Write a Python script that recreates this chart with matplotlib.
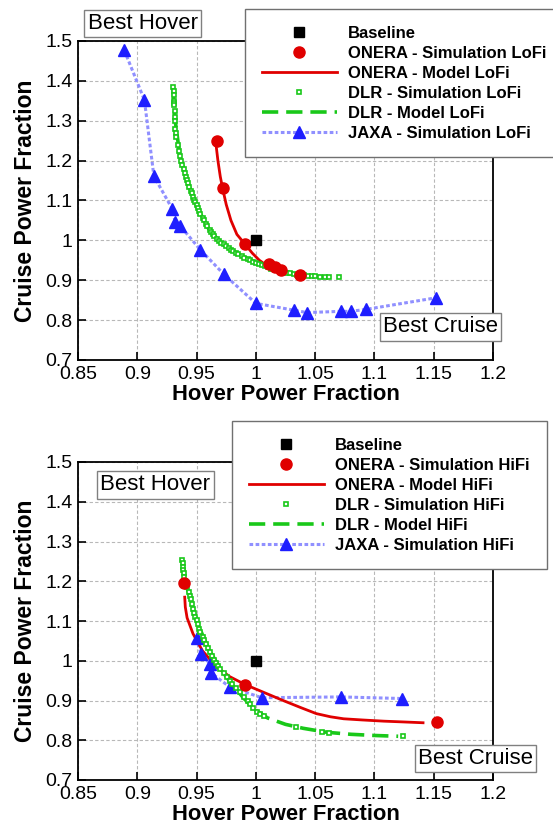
import matplotlib
matplotlib.use("Agg")
import matplotlib.pyplot as plt
from matplotlib.lines import Line2D

plt.rcParams['font.family'] = ['Liberation Sans', 'DejaVu Sans']

# ---------------- LoFi data ----------------
baseline = (1.0, 1.0)

onera_sim_lofi_x = [0.967, 0.972, 0.991, 1.011, 1.016, 1.021, 1.037]
onera_sim_lofi_y = [1.250, 1.131, 0.991, 0.940, 0.932, 0.925, 0.913]

onera_mod_lofi_x = [0.966, 0.968, 0.970, 0.972, 0.975, 0.979, 0.984, 0.991, 0.997, 1.003, 1.010, 1.018, 1.027, 1.037, 1.040]
onera_mod_lofi_y = [1.250, 1.200, 1.160, 1.130, 1.090, 1.050, 1.015, 0.990, 0.968, 0.950, 0.935, 0.924, 0.917, 0.912, 0.911]

dlr_sim_lofi_x = [0.9305, 0.9306, 0.9308, 0.931, 0.9311, 0.9312, 0.9315, 0.9318, 0.932, 0.9322,
                  0.9326, 0.933, 0.934, 0.935, 0.936, 0.937, 0.938, 0.939, 0.940, 0.941,
                  0.942, 0.943, 0.944, 0.945, 0.946, 0.947, 0.948, 0.949, 0.950, 0.951,
                  0.952, 0.953, 0.955, 0.956, 0.958, 0.959, 0.961, 0.962, 0.964, 0.965,
                  0.967, 0.969, 0.971, 0.973, 0.975, 0.977, 0.979, 0.981, 0.983, 0.985,
                  0.988, 0.990, 0.993, 0.995, 0.998, 1.000, 1.003, 1.005, 1.008, 1.010,
                  1.013, 1.015, 1.018, 1.020, 1.023, 1.026, 1.029, 1.032, 1.035, 1.038,
                  1.041, 1.044, 1.047, 1.050, 1.054, 1.058, 1.062, 1.070]
dlr_sim_lofi_y = [1.385, 1.375, 1.365, 1.350, 1.345, 1.340, 1.325, 1.310, 1.300, 1.280,
                  1.270, 1.260, 1.240, 1.225, 1.212, 1.200, 1.190, 1.180, 1.170, 1.160,
                  1.152, 1.145, 1.135, 1.125, 1.118, 1.110, 1.102, 1.095, 1.088, 1.080,
                  1.073, 1.065, 1.056, 1.050, 1.042, 1.035, 1.027, 1.020, 1.015, 1.010,
                  1.004, 0.998, 0.994, 0.990, 0.986, 0.982, 0.977, 0.973, 0.969, 0.965,
                  0.960, 0.957, 0.953, 0.950, 0.947, 0.944, 0.941, 0.938, 0.935, 0.932,
                  0.929, 0.927, 0.925, 0.923, 0.921, 0.919, 0.917, 0.916, 0.914, 0.913,
                  0.912, 0.911, 0.910, 0.910, 0.909, 0.908, 0.908, 0.907]

dlr_mod_lofi_x = [0.930, 0.932, 0.936, 0.942, 0.950, 0.960, 0.970, 0.980, 0.990, 1.000,
                  1.010, 1.020, 1.030, 1.040, 1.050, 1.060, 1.066]
dlr_mod_lofi_y = [1.385, 1.300, 1.210, 1.150, 1.085, 1.030, 0.995, 0.975, 0.958, 0.945,
                  0.932, 0.923, 0.917, 0.913, 0.910, 0.908, 0.907]

jaxa_sim_lofi_x = [0.889, 0.906, 0.914, 0.9295, 0.932, 0.936, 0.953, 0.973, 1.000,
                   1.032, 1.043, 1.072, 1.080, 1.093, 1.152]
jaxa_sim_lofi_y = [1.477, 1.352, 1.161, 1.079, 1.046, 1.037, 0.977, 0.915, 0.842,
                   0.825, 0.819, 0.822, 0.822, 0.827, 0.856]

# ---------------- HiFi data ----------------
onera_sim_hifi_x = [0.939, 0.991, 1.153]
onera_sim_hifi_y = [1.196, 0.940, 0.845]

onera_mod_hifi_x = [0.940, 0.9405, 0.942, 0.947, 0.955, 0.967, 0.978, 0.991, 1.007, 1.023,
                    1.038, 1.051, 1.063, 1.074, 1.090, 1.108, 1.125, 1.141]
onera_mod_hifi_y = [1.160, 1.135, 1.108, 1.068, 1.025, 0.984, 0.960, 0.940, 0.920, 0.900,
                    0.882, 0.867, 0.859, 0.854, 0.851, 0.848, 0.846, 0.844]

dlr_sim_hifi_x = [0.938, 0.9382, 0.9385, 0.9388, 0.939, 0.9395, 0.940, 0.941, 0.942, 0.9436,
                  0.9445, 0.945, 0.946, 0.947, 0.948, 0.949, 0.950, 0.951, 0.952, 0.953,
                  0.955, 0.956, 0.958, 0.960, 0.961, 0.963, 0.965, 0.966, 0.968, 0.970,
                  0.973, 0.9754, 0.978, 0.980, 0.983, 0.9866, 0.990, 0.993, 0.995, 0.998,
                  1.0006, 1.0035, 1.0071, 1.034, 1.0555, 1.062, 1.1243]
dlr_sim_hifi_y = [1.253, 1.245, 1.235, 1.228, 1.220, 1.210, 1.200, 1.192, 1.185, 1.173,
                  1.163, 1.155, 1.143, 1.130, 1.120, 1.111, 1.102, 1.093, 1.080, 1.072,
                  1.060, 1.052, 1.043, 1.031, 1.022, 1.012, 1.003, 0.995, 0.987, 0.978,
                  0.968, 0.959, 0.950, 0.942, 0.931, 0.921, 0.910, 0.900, 0.892, 0.882,
                  0.871, 0.866, 0.861, 0.833, 0.821, 0.819, 0.810]

dlr_mod_hifi_x = [0.938, 0.940, 0.944, 0.950, 0.960, 0.970, 0.980, 0.990, 1.000, 1.010,
                  1.025, 1.040, 1.060, 1.080, 1.100, 1.120]
dlr_mod_hifi_y = [1.250, 1.200, 1.165, 1.100, 1.030, 0.980, 0.940, 0.905, 0.875, 0.856,
                  0.840, 0.830, 0.820, 0.815, 0.812, 0.810]

jaxa_sim_hifi_x = [0.950, 0.9535, 0.9613, 0.9619, 0.978, 1.005, 1.072, 1.123]
jaxa_sim_hifi_y = [1.058, 1.018, 0.993, 0.970, 0.934, 0.907, 0.909, 0.905]

x_ticks = [0.85, 0.9, 0.95, 1.0, 1.05, 1.1, 1.15, 1.2]
x_tick_labels = ['0.85', '0.9', '0.95', '1', '1.05', '1.1', '1.15', '1.2']
y_ticks = [0.7, 0.8, 0.9, 1.0, 1.1, 1.2, 1.3, 1.4, 1.5]
y_tick_labels = ['0.7', '0.8', '0.9', '1', '1.1', '1.2', '1.3', '1.4', '1.5']

RED = '#e00000'
GREEN = '#19c819'
BLUE = '#1e1eff'
BLUE_LINE = '#9090ff'

W, H = 553, 825
fig = plt.figure(figsize=(W / 100, H / 100), dpi=100)


def px_box(left, top, right, bottom):
    return [left / W, 1 - bottom / H, (right - left) / W, (bottom - top) / H]


def style_axes(ax):
    ax.set_xlim(0.85, 1.2)
    ax.set_ylim(0.7, 1.5)
    ax.set_xticks(x_ticks)
    ax.set_xticklabels(x_tick_labels)
    ax.set_yticks(y_ticks)
    ax.set_yticklabels(y_tick_labels)
    ax.grid(True, color='#b8b8b8', lw=0.8, ls=(0, (3, 2)))
    ax.set_axisbelow(True)
    ax.tick_params(direction='in', length=6, width=1.2, labelsize=14,
                   top=False, right=False, pad=4)
    for s in ax.spines.values():
        s.set_linewidth(1.3)
    ax.set_xlabel('Hover Power Fraction', fontsize=15.8, fontweight='bold', labelpad=1)
    ax.set_ylabel('Cruise Power Fraction', fontsize=16.5, fontweight='bold', labelpad=6)


def draw(ax, osx, osy, omx, omy, dsx, dsy, dmx, dmy, jx, jy):
    ax.plot(jx, jy, color=BLUE_LINE, lw=2.2, ls=(0, (1.2, 0.8)), zorder=2)
    ax.plot(omx, omy, color=RED, lw=2.0, zorder=3)
    ax.plot(jx, jy, ls='none', marker='^', ms=9, color=BLUE, mec=BLUE, zorder=4)
    ax.plot(dmx, dmy, color=GREEN, lw=2.6, dashes=(4.5, 2.2), zorder=5)
    ax.plot(dsx, dsy, ls='none', marker='s', ms=3.3, mfc='white', mec=GREEN, mew=1.2, zorder=6)
    ax.plot(osx, osy, ls='none', marker='o', ms=8, color=RED, zorder=7)
    ax.plot([baseline[0]], [baseline[1]], ls='none', marker='s', ms=7, color='black', zorder=8)


def add_legend(fit, left_px, top_px):
    handles = [
        Line2D([], [], ls='none', marker='s', ms=7, color='black'),
        Line2D([], [], ls='none', marker='o', ms=8, color=RED),
        Line2D([], [], color=RED, lw=2.0),
        Line2D([], [], ls='none', marker='s', ms=3.3, mfc='white', mec=GREEN, mew=1.2),
        Line2D([], [], color=GREEN, lw=2.6, dashes=(4.5, 2.2)),
        Line2D([], [], color=BLUE_LINE, lw=2.2, ls=(0, (1.2, 0.8)),
               marker='^', ms=9, mfc=BLUE, mec=BLUE),
    ]
    labels = ['Baseline',
              f'ONERA - Simulation {fit}',
              f'ONERA - Model {fit}',
              f'DLR - Simulation {fit}',
              f'DLR - Model {fit}',
              f'JAXA - Simulation {fit}']
    leg = fig.legend(handles, labels, loc='upper left',
                     bbox_to_anchor=(left_px / W, 1 - top_px / H),
                     bbox_transform=fig.transFigure,
                     prop={'size': 12, 'weight': 'bold'},
                     handlelength=4.5, handletextpad=0.7, labelspacing=0.3,
                     borderpad=1.0, borderaxespad=0, numpoints=1,
                     fancybox=False, framealpha=1, edgecolor='#707070')
    leg.get_frame().set_linewidth(1.0)
    return leg


def label_box(text, cx, cy):
    fig.text(cx / W, 1 - cy / H, text, ha='center', va='center', fontsize=16,
             bbox=dict(boxstyle='square,pad=0.15', fc='white', ec='#808080', lw=1.0))


ax1 = fig.add_axes(px_box(78, 41, 493, 360))
style_axes(ax1)
draw(ax1, onera_sim_lofi_x, onera_sim_lofi_y, onera_mod_lofi_x, onera_mod_lofi_y,
     dlr_sim_lofi_x, dlr_sim_lofi_y, dlr_mod_lofi_x, dlr_mod_lofi_y,
     jaxa_sim_lofi_x, jaxa_sim_lofi_y)

ax2 = fig.add_axes(px_box(78, 462, 493, 780))
style_axes(ax2)
draw(ax2, onera_sim_hifi_x, onera_sim_hifi_y, onera_mod_hifi_x, onera_mod_hifi_y,
     dlr_sim_hifi_x, dlr_sim_hifi_y, dlr_mod_hifi_x, dlr_mod_hifi_y,
     jaxa_sim_hifi_x, jaxa_sim_hifi_y)

add_legend('LoFi', 245, 9)
add_legend('HiFi', 232, 421)

label_box('Best Hover', 142.5, 23.5)
label_box('Best Cruise', 440.5, 327)
label_box('Best Hover', 155.5, 485)
label_box('Best Cruise', 475.5, 758.5)

fig.savefig('out.png', dpi=100)
